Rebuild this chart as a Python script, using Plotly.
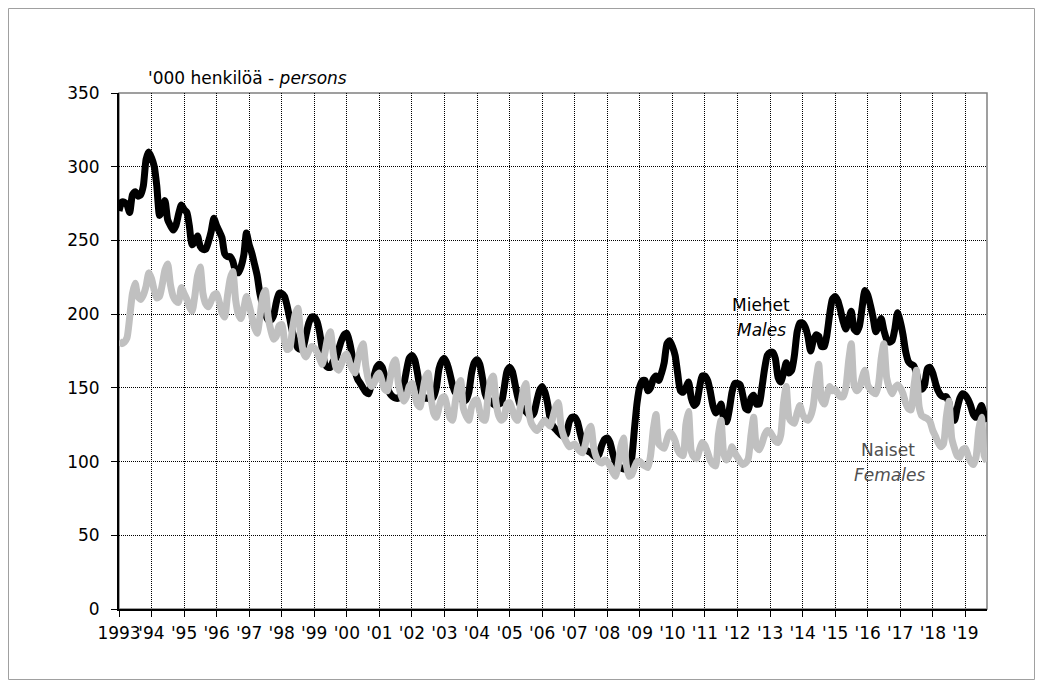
import plotly.graph_objects as go
import pandas as pd

# Työttömät kuukausittain, tuhatta henkilöä (1993/01 - 2019/09)
MALES = [
    270, 276, 276, 274, 269, 281, 283, 280, 281, 287, 305, 310,  # 1993
    306, 300, 287, 267, 271, 277, 264, 260, 257, 260, 268, 274,  # 1994
    271, 269, 260, 247, 249, 253, 246, 244, 244, 249, 256, 265,  # 1995
    260, 256, 252, 241, 239, 239, 236, 229, 228, 232, 240, 255,  # 1996
    247, 241, 234, 226, 214, 206, 200, 196, 196, 199, 208, 214,  # 1997
    214, 212, 206, 197, 188, 182, 177, 176, 178, 186, 194, 198,  # 1998
    198, 195, 188, 176, 166, 164, 164, 168, 170, 176, 182, 186,  # 1999
    187, 181, 172, 162, 156, 153, 150, 147, 146, 152, 158, 164,  # 2000
    166, 164, 158, 150, 146, 144, 143, 143, 146, 152, 162, 170,  # 2001
    172, 169, 161, 150, 145, 143, 143, 142, 144, 150, 163, 168,  # 2002
    170, 166, 160, 152, 147, 145, 143, 141, 142, 147, 160, 167,  # 2003
    169, 166, 157, 146, 142, 141, 139, 138, 139, 140, 150, 161,  # 2004
    164, 161, 153, 144, 138, 136, 134, 132, 131, 133, 141, 148,  # 2005
    151, 147, 140, 129, 124, 122, 120, 118, 117, 119, 127, 130,  # 2006
    130, 127, 120, 113, 108, 107, 106, 104, 103, 105, 111, 115,  # 2007
    116, 113, 106, 100, 97, 96, 95, 95, 96, 102, 122, 140,       # 2008
    151, 155, 155, 148, 150, 156, 158, 155, 160, 167, 180, 182,  # 2009
    178, 172, 160, 148, 147, 150, 154, 143, 138, 140, 150, 158,  # 2010
    158, 155, 148, 138, 133, 135, 139, 129, 127, 135, 147, 153,  # 2011
    153, 152, 145, 136, 135, 143, 145, 139, 139, 150, 163, 172,  # 2012
    174, 174, 170, 157, 154, 160, 167, 160, 162, 172, 188, 194,  # 2013
    194, 191, 185, 175, 182, 186, 185, 178, 178, 186, 200, 210,  # 2014
    212, 209, 203, 195, 190, 196, 202, 190, 188, 192, 205, 216,  # 2015
    213, 206, 198, 188, 192, 197, 189, 183, 181, 182, 190, 201,  # 2016
    195, 186, 175, 168, 166, 165, 160, 152, 149, 152, 163, 164,  # 2017
    160, 153, 148, 145, 144, 144, 140, 130, 128, 136, 143, 146,  # 2018
    145, 142, 138, 132, 130, 134, 138, 132, 127,                 # 2019
]

FEMALES = [
    182, 180, 181, 184, 198, 214, 221, 212, 210, 213, 219, 228,  # 1993
    224, 216, 211, 212, 220, 230, 234, 220, 212, 209, 208, 218,  # 1994
    214, 210, 205, 202, 212, 226, 232, 214, 207, 205, 209, 213,  # 1995
    214, 208, 201, 198, 212, 224, 229, 210, 200, 197, 204, 212,  # 1996
    206, 198, 191, 187, 198, 212, 216, 198, 189, 183, 185, 192,  # 1997
    193, 182, 176, 177, 190, 200, 204, 186, 174, 171, 175, 178,  # 1998
    177, 174, 170, 166, 174, 184, 188, 174, 164, 162, 166, 171,  # 1999
    173, 167, 163, 160, 168, 176, 180, 165, 155, 151, 153, 158,  # 2000
    160, 154, 149, 148, 156, 166, 169, 153, 145, 141, 144, 151,  # 2001
    153, 146, 139, 137, 147, 157, 160, 144, 133, 130, 137, 143,  # 2002
    144, 137, 130, 128, 140, 151, 155, 136, 131, 128, 137, 141,  # 2003
    142, 134, 129, 128, 143, 155, 158, 140, 131, 128, 130, 139,  # 2004
    140, 135, 130, 128, 137, 148, 153, 135, 126, 123, 121, 123,  # 2005
    126, 128, 126, 124, 130, 137, 140, 124, 117, 113, 110, 111,  # 2006
    112, 109, 107, 106, 112, 121, 124, 110, 103, 100, 99, 101,   # 2007
    100, 97, 93, 90, 97, 110, 116, 98, 90, 91, 96, 100,          # 2008
    100, 98, 97, 96, 104, 122, 132, 112, 110, 109, 115, 120,     # 2009
    118, 114, 108, 105, 104, 125, 134, 107, 103, 102, 108, 113,  # 2010
    111, 106, 101, 98, 97, 118, 128, 105, 101, 104, 110, 106,    # 2011
    103, 100, 98, 99, 102, 118, 130, 110, 108, 112, 118, 121,    # 2012
    120, 117, 114, 113, 118, 140, 151, 130, 127, 126, 133, 138,  # 2013
    132, 129, 128, 131, 138, 155, 166, 142, 139, 145, 151, 148,  # 2014
    149, 146, 144, 144, 150, 168, 180, 152, 148, 150, 157, 162,  # 2015
    152, 149, 147, 146, 152, 170, 180, 157, 150, 146, 150, 152,  # 2016
    150, 146, 140, 136, 135, 150, 162, 137, 131, 130, 129, 127,  # 2017
    121, 117, 113, 110, 112, 130, 141, 116, 109, 104, 103, 108,  # 2018
    109, 104, 100, 98, 103, 122, 130, 104, 100,                  # 2019
]

YEARS = list(range(1993, 2020))
YEAR_LABELS = ["1993"] + ["'" + str(y)[2:] for y in YEARS[1:]]

FONT = "DejaVu Sans"

months = pd.date_range("1993-01-01", periods=len(MALES), freq="MS")
year_ticks = [pd.Timestamp(year=y, month=1, day=1) for y in YEARS]

# the page puts the figure 8px in from the corner
W, H = 1027, 672
L, R, T, B = 111, 979, 85, 601   # plot area inside the figure, px


def px(x, y):
    # page pixel -> paper coords
    x, y = x - 8, y - 8
    return (x - L) / (R - L), (B - y) / (B - T)


fig = go.Figure()

fig.add_trace(go.Scatter(
    x=months, y=MALES, mode="lines", name="Miehet",
    line=dict(color="black", width=7, shape="spline", smoothing=0.6),
))
fig.add_trace(go.Scatter(
    x=months, y=FEMALES, mode="lines", name="Naiset",
    line=dict(color="#c0c0c0", width=7, shape="spline", smoothing=0.6),
))

annotations = []
for text, (x, y), color, anchor in [
    ("'000 henkilöä - <i>persons</i>", (146, 78), "black", "left"),
    ("Miehet", (761, 305), "black", "center"),
    ("<i>Males</i>", (761, 330), "black", "center"),
    ("Naiset", (888, 450), "#505050", "center"),
    ("<i>Females</i>", (889, 475), "#505050", "center"),
]:
    xp, yp = px(x, y)
    annotations.append(dict(
        x=xp, y=yp, xref="paper", yref="paper", text=text, showarrow=False,
        xanchor=anchor, yanchor="middle", font=dict(family=FONT, size=17, color=color),
    ))

# outer frame along the figure edge
fx0, fy0 = (0.5 - L) / (R - L), (B - (H - 0.5)) / (B - T)
fx1, fy1 = (W - 0.5 - L) / (R - L), (B - 0.5) / (B - T)

fig.update_layout(
    width=W, height=H,
    margin=dict(l=L, r=W - R, t=T, b=H - B),
    paper_bgcolor="white", plot_bgcolor="white",
    showlegend=False,
    font=dict(family=FONT, size=17, color="black"),
    annotations=annotations,
    shapes=[
        dict(type="rect", xref="paper", yref="paper", x0=0, x1=1, y0=0, y1=1,
             line=dict(color="#808080", width=1.5), layer="below"),
        dict(type="rect", xref="paper", yref="paper", x0=fx0, x1=fx1, y0=fy0, y1=fy1,
             line=dict(color="#a0a0a0", width=1)),
    ],
)

fig.update_xaxes(
    type="date", range=[months[0], months[-1]],
    tickmode="array", tickvals=year_ticks, ticktext=YEAR_LABELS, tickangle=0,
    showgrid=True, gridcolor="black", gridwidth=1, griddash="1px,1px",
    ticks="outside", ticklen=6, tickcolor="black",
    showline=True, linecolor="black", linewidth=2,
    ticklabelstandoff=2,
    tickfont=dict(family=FONT, size=17, color="black"),
)
fig.update_yaxes(
    range=[0, 350], dtick=50, tick0=0,
    showgrid=True, gridcolor="black", gridwidth=1, griddash="1px,1px",
    zeroline=False,
    ticks="outside", ticklen=6, tickcolor="black",
    showline=True, linecolor="black", linewidth=2,
    ticklabelstandoff=8,
    tickfont=dict(family=FONT, size=17, color="black"),
)

fig.write_html("out.html")
